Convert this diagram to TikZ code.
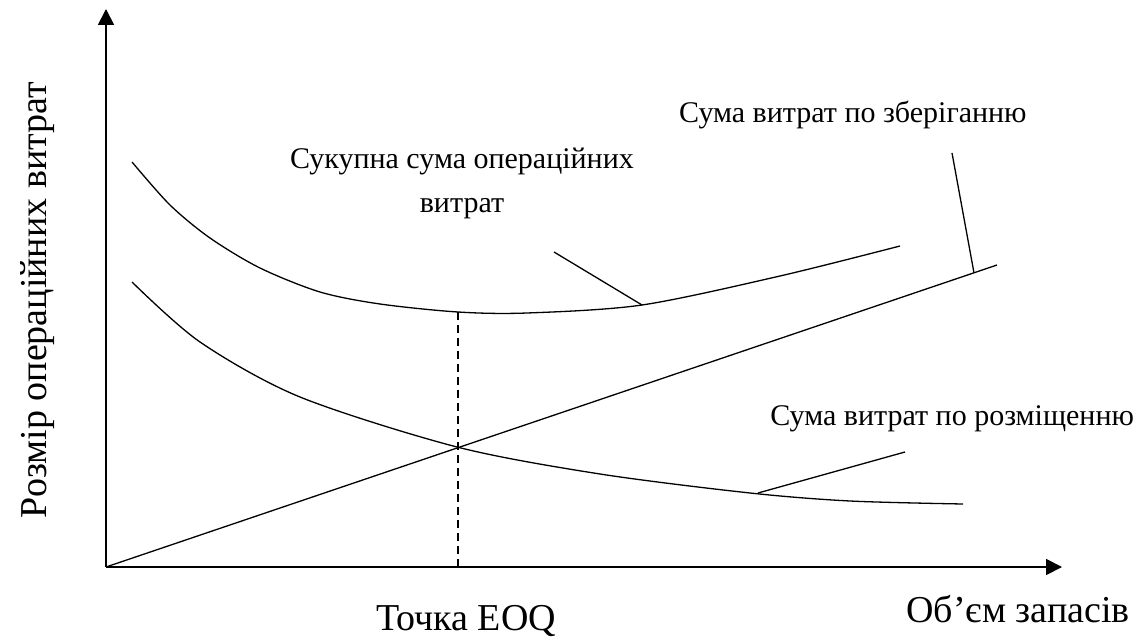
\documentclass[tikz,border=0pt]{standalone}
\usepackage{fontspec}
\setmainfont{Liberation Serif}
\usetikzlibrary{arrows.meta}

\begin{document}
\begin{tikzpicture}[
	x=0.5pt, y=-0.5pt,
	axis/.style={line width=0.9pt, -{Triangle[length=8pt,width=8pt]}},
	curve/.style={line width=0.65pt},
	pointer/.style={line width=0.65pt},
	guide/.style={line width=0.6pt, dash pattern=on 4pt off 2.5pt},
	lbl/.style={inner sep=0pt, font=\fontsize{15pt}{22pt}\selectfont},
	axlbl/.style={inner sep=0pt, font=\fontsize{19pt}{22pt}\selectfont}
	]
	
	\useasboundingbox (0,0) rectangle (1138,640);
	
	%-----------------------
	% Axes
	%-----------------------
	\coordinate (O) at (106,567);
	\coordinate (Ytop) at (106,9);
	\coordinate (Xend) at (1062,567);
	
	\draw[axis] (O) -- (Ytop);
	\draw[axis] (O) -- (Xend);
	
	%-----------------------
	% Curves
	%-----------------------
	% total operating costs
	\draw[curve] plot[smooth] coordinates {(132,162) (170,205) (210,238) (260,268) (320,292) (380,304) (458,312) (527,313) (642,305) (780,276) (900,246)};
	
	% placement costs
	\draw[curve] plot[smooth] coordinates {(132,282) (200,342) (300,397) (457,447) (600,474) (750,493) (850,501) (963,504)};
	
	% storage costs (straight line)
	\coordinate (Lend) at (997,265);
	\draw[curve] (O) -- (Lend);
	
	% EOQ guide
	\coordinate (EOQtop) at (458,312);
	\coordinate (EOQbot) at (458,567);
	\draw[guide] (EOQtop) -- (EOQbot);
	
	%-----------------------
	% Labels
	%-----------------------
	\node[lbl, anchor=base east] (Lstor) at (1027,123) {Сума витрат по зберіганню};
	\node[lbl, anchor=base, align=center] (Ltot) at (462,213) {Сукупна сума операційних\\витрат};
	\node[lbl, anchor=base west] (Lplac) at (770,425) {Сума витрат по розміщенню};
	
	\node[axlbl, anchor=base] (Leoq) at (466,630) {Точка EOQ};
	\node[axlbl, anchor=base east] (Lvol) at (1130,622) {Об’єм запасів};
	\node[axlbl, anchor=base, rotate=90] (Lcost) at (46,300) {Розмір операційних витрат};
	
	%-----------------------
	% Pointers
	%-----------------------
	\coordinate (Pstor-a) at (952,153);
	\coordinate (Pstor-b) at (974,273);
	\coordinate (Ptot-a) at (554,252);
	\coordinate (Ptot-b) at (642,305);
	\coordinate (Pplac-a) at (905,452);
	\coordinate (Pplac-b) at (758,493);
	
	\draw[pointer] (Pstor-a) -- (Pstor-b);
	\draw[pointer] (Ptot-a) -- (Ptot-b);
	\draw[pointer] (Pplac-a) -- (Pplac-b);
	
\end{tikzpicture}
\end{document}
